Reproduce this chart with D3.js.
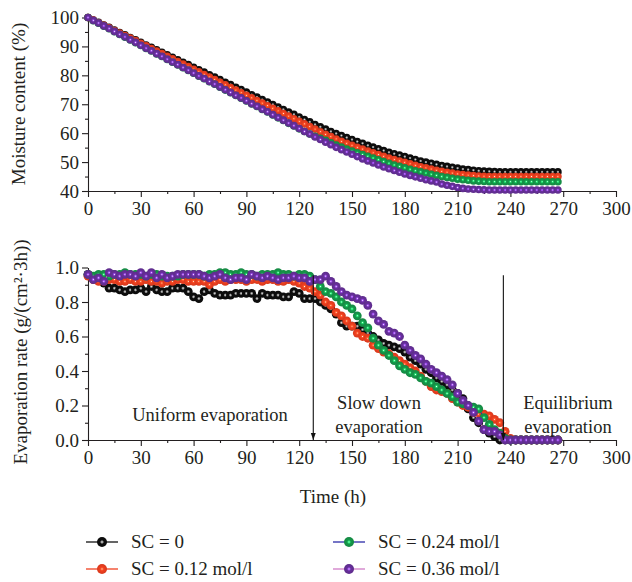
<!DOCTYPE html>
<html>
<head>
<meta charset="utf-8">
<script src="https://cdn.jsdelivr.net/npm/d3@7"></script>
<style>
  body { margin: 0; background: #fff; }
  text { font-family: "Liberation Serif", "DejaVu Serif", serif; fill: #231f20; }
</style>
</head>
<body>
<svg id="chart" width="632" height="582"></svg>
<script>
// Time (h) for every sample.
var hours = [0, 3, 6, 9, 12, 15, 18, 21, 24, 27, 30, 33, 36, 39, 42, 45, 48, 51, 54, 57,
    60, 63, 66, 69, 72, 75, 78, 81, 84, 87, 90, 93, 96, 99, 102, 105, 108, 111, 114, 117,
    120, 123, 126, 129, 132, 135, 138, 141, 144, 147, 150, 153, 156, 159, 162, 165, 168, 171, 174, 177,
    180, 183, 186, 189, 192, 195, 198, 201, 204, 207, 210, 213, 216, 219, 222, 225, 228, 231, 234, 237,
    240, 243, 246, 249, 252, 255, 258, 261, 264, 267];

var seriesNames = ["SC = 0", "SC = 0.12 mol/l", "SC = 0.24 mol/l", "SC = 0.36 mol/l"];

// Moisture content (%).
var moisture0 = [100.0, 99.1, 98.3, 97.4, 96.6, 95.7, 94.8, 94.0, 93.1, 92.3, 91.4, 90.5, 89.7, 88.8, 88.0, 87.1, 86.2, 85.4, 84.5, 83.7,
    82.8, 81.9, 81.1, 80.2, 79.4, 78.5, 77.6, 76.8, 75.9, 75.1, 74.2, 73.3, 72.5, 71.6, 70.8, 69.9, 69.0, 68.2, 67.3, 66.5,
    65.6, 64.7, 63.9, 63.0, 62.2, 61.4, 60.6, 59.9, 59.2, 58.5, 57.8, 57.1, 56.5, 55.8, 55.2, 54.6, 54.0, 53.4, 52.9, 52.4,
    51.9, 51.4, 50.9, 50.4, 50.0, 49.6, 49.2, 48.8, 48.5, 48.2, 47.9, 47.6, 47.4, 47.2, 47.0, 46.9, 46.8, 46.7, 46.6, 46.6,
    46.6, 46.6, 46.6, 46.6, 46.6, 46.6, 46.6, 46.6, 46.6, 46.6];
var moisture12 = [100.0, 99.1, 98.2, 97.3, 96.4, 95.5, 94.6, 93.8, 92.9, 92.0, 91.1, 90.2, 89.3, 88.4, 87.5, 86.6, 85.7, 84.8, 83.9, 83.0,
    82.1, 81.2, 80.3, 79.4, 78.5, 77.6, 76.7, 75.8, 74.9, 74.0, 73.1, 72.2, 71.3, 70.4, 69.5, 68.6, 67.7, 66.8, 65.9, 65.0,
    64.1, 63.2, 62.3, 61.4, 60.5, 59.6, 58.8, 58.0, 57.2, 56.5, 55.8, 55.1, 54.5, 53.8, 53.2, 52.6, 52.0, 51.4, 50.9, 50.4,
    49.9, 49.4, 48.9, 48.4, 48.0, 47.6, 47.2, 46.8, 46.5, 46.2, 45.9, 45.7, 45.5, 45.3, 45.2, 45.1, 45.0, 45.0, 45.0, 45.0,
    45.0, 45.0, 45.0, 45.0, 45.0, 45.0, 45.0, 45.0, 45.0, 45.0];
var moisture24 = [100.0, 98.9, 98.0, 97.0, 96.1, 95.1, 94.1, 93.2, 92.2, 91.3, 90.3, 89.3, 88.4, 87.4, 86.5, 85.5, 84.5, 83.6, 82.6, 81.7,
    80.7, 79.7, 78.8, 77.8, 76.9, 75.9, 74.9, 74.0, 73.0, 72.1, 71.1, 70.1, 69.2, 68.2, 67.3, 66.3, 65.3, 64.4, 63.4, 62.5,
    61.5, 60.6, 59.7, 58.9, 58.2, 57.5, 56.7, 55.9, 55.2, 54.5, 53.8, 53.2, 52.6, 52.0, 51.4, 50.8, 50.2, 49.6, 49.0, 48.5,
    48.0, 47.5, 47.0, 46.6, 46.2, 45.8, 45.4, 45.0, 44.7, 44.4, 44.1, 43.9, 43.7, 43.5, 43.4, 43.3, 43.2, 43.2, 43.2, 43.2,
    43.2, 43.2, 43.2, 43.2, 43.2, 43.2, 43.2, 43.2, 43.2, 43.2];
var moisture36 = [100.0, 99.0, 98.1, 97.1, 96.2, 95.2, 94.2, 93.3, 92.3, 91.4, 90.4, 89.4, 88.5, 87.5, 86.6, 85.6, 84.6, 83.7, 82.7, 81.8,
    80.8, 79.8, 78.9, 77.9, 77.0, 76.0, 75.0, 74.1, 73.1, 72.2, 71.2, 70.2, 69.3, 68.3, 67.4, 66.4, 65.4, 64.5, 63.5, 62.6,
    61.6, 60.6, 59.7, 58.7, 57.8, 56.9, 56.0, 55.1, 54.3, 53.5, 52.7, 51.9, 51.1, 50.4, 49.7, 49.0, 48.3, 47.7, 47.1, 46.5,
    45.9, 45.4, 44.9, 44.4, 43.9, 43.5, 43.1, 42.4, 42.0, 41.6, 41.2, 40.9, 40.7, 40.6, 40.5, 40.4, 40.35, 40.35, 40.35, 40.35,
    40.35, 40.35, 40.35, 40.35, 40.35, 40.35, 40.35, 40.35, 40.35, 40.35];

// Evaporation rate (g/(cm2.3h)).
var rate0 = [0.96, 0.94, 0.93, 0.91, 0.88, 0.88, 0.87, 0.86, 0.87, 0.87, 0.88, 0.86, 0.89, 0.87, 0.86, 0.86, 0.88, 0.88, 0.88, 0.86,
    0.83, 0.82, 0.86, 0.87, 0.85, 0.84, 0.84, 0.84, 0.85, 0.85, 0.85, 0.85, 0.82, 0.85, 0.84, 0.84, 0.84, 0.83, 0.83, 0.86,
    0.85, 0.82, 0.82, 0.82, 0.80, 0.78, 0.76, 0.73, 0.68, 0.66, 0.66, 0.66, 0.64, 0.62, 0.60, 0.58, 0.56, 0.55, 0.54, 0.53,
    0.51, 0.48, 0.46, 0.44, 0.41, 0.39, 0.36, 0.34, 0.32, 0.29, 0.27, 0.24, 0.18, 0.13, 0.10, 0.06, 0.04, 0.02, 0.00, 0.00,
    0.00, 0.00, 0.00, 0.00, 0.00, 0.00, 0.00, 0.00, 0.00, 0.00];
var rate12 = [0.95, 0.93, 0.92, 0.92, 0.93, 0.93, 0.92, 0.92, 0.93, 0.92, 0.92, 0.93, 0.92, 0.92, 0.91, 0.92, 0.92, 0.93, 0.93, 0.92,
    0.92, 0.92, 0.92, 0.90, 0.92, 0.93, 0.92, 0.93, 0.93, 0.93, 0.92, 0.93, 0.93, 0.92, 0.93, 0.93, 0.92, 0.92, 0.93, 0.92,
    0.91, 0.89, 0.88, 0.86, 0.84, 0.80, 0.78, 0.74, 0.72, 0.69, 0.66, 0.62, 0.60, 0.59, 0.55, 0.53, 0.51, 0.50, 0.48, 0.46,
    0.44, 0.42, 0.40, 0.37, 0.34, 0.31, 0.29, 0.28, 0.27, 0.24, 0.22, 0.20, 0.19, 0.16, 0.15, 0.15, 0.14, 0.12, 0.10, 0.05,
    0.01, 0.00, 0.00, 0.00, 0.00, 0.00, 0.00, 0.00, 0.00, 0.00];
var rate24 = [0.96, 0.95, 0.96, 0.96, 0.95, 0.96, 0.96, 0.97, 0.96, 0.96, 0.96, 0.95, 0.96, 0.96, 0.95, 0.95, 0.95, 0.95, 0.96, 0.96,
    0.96, 0.96, 0.95, 0.96, 0.96, 0.97, 0.97, 0.96, 0.96, 0.97, 0.96, 0.96, 0.95, 0.96, 0.96, 0.96, 0.97, 0.96, 0.96, 0.95,
    0.96, 0.96, 0.95, 0.93, 0.89, 0.86, 0.85, 0.83, 0.80, 0.78, 0.76, 0.72, 0.68, 0.65, 0.59, 0.55, 0.52, 0.49, 0.46, 0.43,
    0.41, 0.39, 0.38, 0.36, 0.34, 0.33, 0.31, 0.29, 0.27, 0.25, 0.22, 0.21, 0.20, 0.19, 0.18, 0.13, 0.09, 0.06, 0.04, 0.01,
    0.00, 0.00, 0.00, 0.00, 0.00, 0.00, 0.00, 0.00, 0.00, 0.00];
var rate36 = [0.96, 0.93, 0.94, 0.92, 0.97, 0.96, 0.95, 0.96, 0.96, 0.95, 0.97, 0.95, 0.97, 0.94, 0.96, 0.94, 0.95, 0.96, 0.96, 0.96,
    0.96, 0.96, 0.95, 0.94, 0.95, 0.96, 0.94, 0.93, 0.94, 0.94, 0.93, 0.96, 0.95, 0.94, 0.95, 0.94, 0.93, 0.94, 0.94, 0.95,
    0.94, 0.94, 0.92, 0.93, 0.93, 0.95, 0.92, 0.89, 0.86, 0.84, 0.83, 0.82, 0.81, 0.78, 0.73, 0.69, 0.67, 0.63, 0.62, 0.60,
    0.55, 0.52, 0.49, 0.47, 0.44, 0.41, 0.39, 0.37, 0.35, 0.32, 0.27, 0.23, 0.20, 0.16, 0.11, 0.06, 0.05, 0.05, 0.03, 0.00,
    0.00, 0.00, 0.00, 0.00, 0.00, 0.00, 0.00, 0.00, 0.00, 0.00];

var xTicks = [0, 30, 60, 90, 120, 150, 180, 210, 240, 270, 300];
var moistureTicks = [40, 50, 60, 70, 80, 90, 100];
var rateTicks = [0, 0.2, 0.4, 0.6, 0.8, 1.0];

// Stage boundaries (h) and stage names.
var stageLines = [128, 236];
var stageLabels = [["Uniform evaporation"], ["Slow down", "evaporation"], ["Equilibrium", "evaporation"]];

var markerColors = ["#0d0d0d", "#ef3f1f", "#16974a", "#67309b"];
var lineColors = ["#111111", "#f0401f", "#2b2ba8", "#d07ac6"];
var moistureData = [moisture0, moisture12, moisture24, moisture36];
var rateData = [rate0, rate12, rate24, rate36];

var svg = d3.select("#chart");
var defs = svg.append("defs");

// Shaded ball markers: small light spot in the middle.
markerColors.forEach(function (c, i) {
    var grad = defs.append("radialGradient").attr("id", "ball" + i)
        .attr("cx", "50%").attr("cy", "50%").attr("r", "50%");
    grad.append("stop").attr("offset", "0%").attr("stop-color", i === 0 ? "#e0e0e0" : "#ffffff");
    grad.append("stop").attr("offset", "18%").attr("stop-color", i === 0 ? "#9a9a9a" : d3.color(c).brighter(1.2));
    grad.append("stop").attr("offset", "42%").attr("stop-color", c);
    grad.append("stop").attr("offset", "100%").attr("stop-color", d3.color(c).darker(0.3));
});

defs.append("marker").attr("id", "arrow")
    .attr("viewBox", "0 0 10 10").attr("refX", 10).attr("refY", 5)
    .attr("markerWidth", 7).attr("markerHeight", 8).attr("markerUnits", "userSpaceOnUse")
    .attr("orient", "auto")
    .append("path").attr("d", "M0,1.5 L10,5 L0,8.5 Z").attr("fill", "#111");

var x = d3.scaleLinear().domain([0, 300]).range([88, 616]);
var yTop = d3.scaleLinear().domain([40, 100]).range([191, 17.5]);
var yBot = d3.scaleLinear().domain([0, 1]).range([440, 267.5]);

function drawAxes(yScale, yTicks, fmt, minorY) {
    var bottom = yScale.range()[0];
    svg.append("g").attr("transform", "translate(0," + bottom + ")")
        .call(d3.axisBottom(x).tickValues(xTicks).tickSize(6).tickSizeOuter(0).tickPadding(5));
    svg.append("g").attr("transform", "translate(0," + bottom + ")")
        .call(d3.axisBottom(x).tickValues(xTicks.slice(0, -1).map(function (d) { return d + 15; }))
            .tickSize(3).tickFormat("")).select(".domain").remove();
    svg.append("g").attr("transform", "translate(88,0)")
        .call(d3.axisLeft(yScale).tickValues(yTicks).tickSize(6).tickSizeOuter(0).tickPadding(3).tickFormat(fmt));
    svg.append("g").attr("transform", "translate(88,0)")
        .call(d3.axisLeft(yScale).tickValues(minorY).tickSize(3).tickFormat("")).select(".domain").remove();
    svg.selectAll(".tick text").style("font-family", "Liberation Serif, serif").style("font-size", "19px").attr("fill", "#231f20");
    svg.selectAll(".domain, .tick line").attr("stroke", "#231f20").attr("stroke-width", 1.1);
}

drawAxes(yTop, moistureTicks, d3.format("d"), [45, 55, 65, 75, 85, 95]);
drawAxes(yBot, rateTicks, d3.format(".1f"), [0.1, 0.3, 0.5, 0.7, 0.9]);

function drawSeries(data, yScale, r) {
    data.forEach(function (vals, i) {
        var pts = hours.map(function (h, k) { return [h, vals[k]]; });
        var g = svg.append("g");
        g.append("path").datum(pts)
            .attr("fill", "none").attr("stroke", lineColors[i]).attr("stroke-width", 1)
            .attr("d", d3.line().x(function (d) { return x(d[0]); }).y(function (d) { return yScale(d[1]); }));
        g.selectAll("circle").data(pts).join("circle")
            .attr("cx", function (d) { return x(d[0]); })
            .attr("cy", function (d) { return yScale(d[1]); })
            .attr("r", r)
            .attr("fill", "url(#ball" + i + ")");
    });
}

drawSeries(moistureData, yTop, 3.8);
drawSeries(rateData, yBot, 4.4);

// Stage arrows.
stageLines.forEach(function (h) {
    svg.append("line")
        .attr("x1", x(h)).attr("x2", x(h))
        .attr("y1", yBot(0.955)).attr("y2", yBot(0))
        .attr("stroke", "#111").attr("stroke-width", 1.1)
        .attr("marker-end", "url(#arrow)");
});

var stageX = [210, 379, 568];
var stageY = [[421], [409, 433], [409, 433]];
stageLabels.forEach(function (lines, i) {
    lines.forEach(function (t, j) {
        svg.append("text").attr("x", stageX[i]).attr("y", stageY[i][j])
            .attr("text-anchor", "middle").style("font-size", "18.5px").text(t);
    });
});

// Axis titles.
svg.append("text").attr("transform", "translate(25,104) rotate(-90)")
    .attr("text-anchor", "middle").style("font-size", "19px").text("Moisture content (%)");
svg.append("text").attr("transform", "translate(27,352) rotate(-90)")
    .attr("text-anchor", "middle").style("font-size", "19px").text("Evaporation rate (g/(cm²·3h))");
svg.append("text").attr("x", 333).attr("y", 503)
    .attr("text-anchor", "middle").style("font-size", "19px").text("Time (h)");

// Legend.
var legendPos = [[86, 542], [86, 569], [333, 542], [333, 569]];
seriesNames.forEach(function (name, i) {
    var p = legendPos[i];
    svg.append("line").attr("x1", p[0]).attr("x2", p[0] + 32).attr("y1", p[1]).attr("y2", p[1])
        .attr("stroke", lineColors[i]).attr("stroke-width", 1.3);
    svg.append("circle").attr("cx", p[0] + 16).attr("cy", p[1]).attr("r", 5)
        .attr("fill", "url(#ball" + i + ")");
    svg.append("text").attr("x", p[0] + 45).attr("y", p[1] + 6).style("font-size", "19px").text(name);
});
</script>
</body>
</html>
